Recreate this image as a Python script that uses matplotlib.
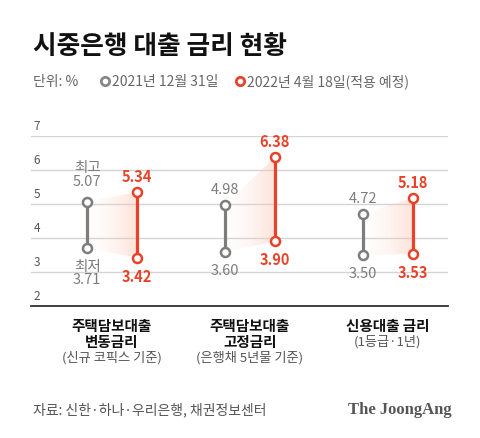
import matplotlib
matplotlib.use("Agg")
import matplotlib.pyplot as plt
import numpy as np
from matplotlib.patches import Polygon
from matplotlib.colors import LinearSegmentedColormap
from matplotlib.lines import Line2D

plt.rcParams['font.family'] = ['Noto Sans CJK KR', 'DejaVu Sans']

# ---- data ----
cat_titles = ["주택담보대출\n변동금리", "주택담보대출\n고정금리", "신용대출 금리"]
cat_notes = ["(신규 코픽스 기준)", "(은행채 5년물 기준)", "(1등급·1년)"]
old_high = [5.07, 4.98, 4.72]
old_low = [3.71, 3.60, 3.50]
new_high = [5.34, 6.38, 5.18]
new_low = [3.42, 3.90, 3.53]
yticks = [2, 3, 4, 5, 6, 7]
legend_old = "2021년 12월 31일"
legend_new = "2022년 4월 18일(적용 예정)"

GRAY = "#7d7d7d"
RED = "#e8432a"

W, H = 480, 439
fig = plt.figure(figsize=(W / 100, H / 100), dpi=100)
fig.patch.set_facecolor("white")

ax = fig.add_axes([31 / W, 132 / H, (448 - 31) / W, (307 - 137) / H])
ax.set_xlim(-0.587, 2.435)
ax.set_ylim(2, 7)
for s in ["top", "right", "left"]:
    ax.spines[s].set_visible(False)
ax.spines["bottom"].set_color("#333333")
ax.spines["bottom"].set_linewidth(1.3)
ax.set_xticks([])
ax.set_yticks([])
for t in yticks[1:]:
    ax.axhline(t, color="#d4d4d4", lw=1.0, zorder=0)
for t in yticks:
    ax.annotate(str(t), xy=(0, t), xycoords=("axes fraction", "data"),
                xytext=(2, 3), textcoords="offset points",
                ha="left", va="bottom", fontsize=8.5, color="#555555")

off = 0.18
cmap = LinearSegmentedColormap.from_list(
    "grad", [(1, 0.88, 0.84, 0.0), (0.98, 0.74, 0.65, 0.42)])
grad = np.linspace(0, 1, 256).reshape(1, -1)

for i in range(len(cat_titles)):
    xg, xr = i - off, i + off
    poly = Polygon([[xg, old_high[i]], [xr, new_high[i]],
                    [xr, new_low[i]], [xg, old_low[i]]],
                   closed=True, facecolor="none", edgecolor="none")
    ax.add_patch(poly)
    im = ax.imshow(grad, extent=[xg, xr, 2, 7], aspect="auto", cmap=cmap,
                   zorder=1, interpolation="bilinear")
    im.set_clip_path(poly)

    ax.plot([xg, xg], [old_low[i], old_high[i]], color=GRAY, lw=2.3,
            marker="o", ms=6.5, mfc="white", mec=GRAY, mew=1.8, zorder=3)
    ax.plot([xr, xr], [new_low[i], new_high[i]], color=RED, lw=2.3,
            marker="o", ms=6.5, mfc="white", mec=RED, mew=1.8, zorder=3)

    if i == 0:
        ax.annotate(f"최고\n{old_high[i]:.2f}", (xg, old_high[i]),
                    xytext=(0, 10), textcoords="offset points",
                    ha="center", va="bottom", fontsize=10.5, color=GRAY,
                    linespacing=0.95)
        ax.annotate(f"최저\n{old_low[i]:.2f}", (xg, old_low[i]),
                    xytext=(0, -8), textcoords="offset points",
                    ha="center", va="top", fontsize=10.5, color=GRAY,
                    linespacing=0.95)
    else:
        ax.annotate(f"{old_high[i]:.2f}", (xg, old_high[i]),
                    xytext=(0, 11.5), textcoords="offset points",
                    ha="center", va="center", fontsize=10.5, color=GRAY)
        ax.annotate(f"{old_low[i]:.2f}", (xg, old_low[i]),
                    xytext=(0, -13), textcoords="offset points",
                    ha="center", va="center", fontsize=10.5, color=GRAY)
    ax.annotate(f"{new_high[i]:.2f}", (xr, new_high[i]),
                xytext=(0, 11.5), textcoords="offset points",
                ha="center", va="center", fontsize=10.5, color=RED,
                fontweight="bold")
    ax.annotate(f"{new_low[i]:.2f}", (xr, new_low[i]),
                xytext=(0, -13), textcoords="offset points",
                ha="center", va="center", fontsize=10.5, color=RED,
                fontweight="bold")

    # category labels
    ax.annotate(cat_titles[i], xy=(i, 2), xycoords="data",
                xytext=(0, -8), textcoords="offset points",
                ha="center", va="top", fontsize=10.5, fontweight="bold",
                color="#111111", linespacing=1.0)
    nlines = cat_titles[i].count("\n") + 1
    ax.annotate(cat_notes[i], xy=(i, 2), xycoords="data",
                xytext=(0, -8 - 11.5 * nlines - 0.5), textcoords="offset points",
                ha="center", va="top", fontsize=9.5, color="#555555")

# title
fig.text(33 / W, 1 - 47 / H, "시중은행 대출 금리 현황", fontsize=18.5,
         fontweight="bold", color="#111111", ha="left", va="center")
# legend row
ly = 1 - 82 / H
fig.text(33 / W, ly, "단위: %", fontsize=10, color="#666666",
         ha="left", va="center")
fig.add_artist(Line2D([105 / W], [ly], marker="o", ms=6, mfc="white",
                      mec="#888888", mew=2, transform=fig.transFigure))
fig.text(112 / W, ly, legend_old, fontsize=10, color="#666666",
         ha="left", va="center")
fig.add_artist(Line2D([240 / W], [ly], marker="o", ms=6, mfc="white",
                      mec=RED, mew=2, transform=fig.transFigure))
fig.text(247 / W, ly, legend_new, fontsize=10, color="#666666",
         ha="left", va="center")

# footer
fig.text(33 / W, 1 - 410 / H, "자료: 신한·하나·우리은행, 채권정보센터",
         fontsize=10, color="#555555", ha="left", va="center")
fig.text(452 / W, 1 - 410 / H, "The JoongAng", fontsize=12,
         family="Liberation Serif", fontweight="bold", color="#555555",
         ha="right", va="center")

fig.savefig("out.png", dpi=100, facecolor="white")
